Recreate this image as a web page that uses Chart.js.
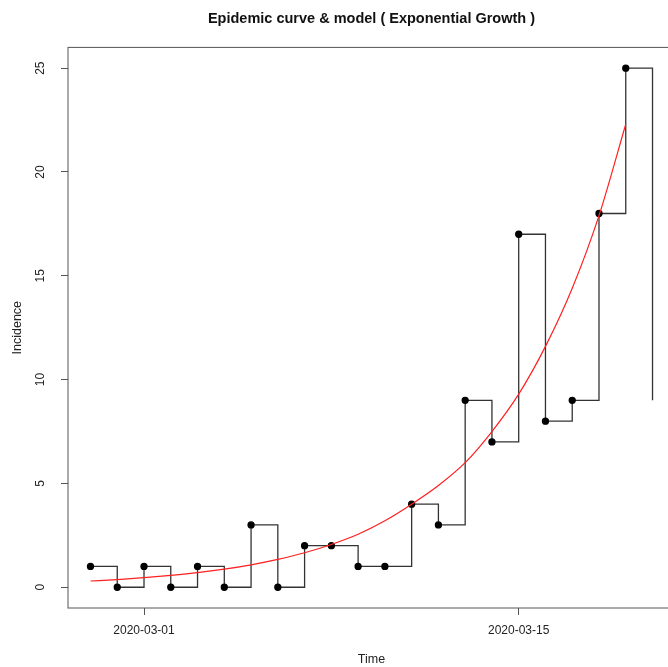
<!DOCTYPE html>
<html>
<head>
<meta charset="utf-8">
<script src="https://cdn.jsdelivr.net/npm/chart.js@4"></script>
<style>
  html, body { margin: 0; padding: 0; background: #fff; overflow: hidden; }
  #wrap { width: 690px; height: 667px; }
</style>
</head>
<body>
<div id="wrap"><canvas id="epi"></canvas></div>
<script>
const dates = [
  "2020-02-28", "2020-02-29", "2020-03-01", "2020-03-02", "2020-03-03", "2020-03-04",
  "2020-03-05", "2020-03-06", "2020-03-07", "2020-03-08", "2020-03-09", "2020-03-10",
  "2020-03-11", "2020-03-12", "2020-03-13", "2020-03-14", "2020-03-15", "2020-03-16",
  "2020-03-17", "2020-03-18", "2020-03-19", "2020-03-20"
];
const incidence = [1, 0, 1, 0, 1, 0, 3, 0, 2, 2, 1, 1, 4, 3, 9, 7, 17, 8, 9, 18, 25, 9];
// fitted model (one value per day up to 2020-03-19)
const model = [0.30, 0.37, 0.46, 0.57, 0.70, 0.87, 1.08, 1.34, 1.66, 2.06, 2.55,
  3.2, 4.0, 4.9, 6.0, 7.5, 9.3, 11.6, 14.4, 17.9, 22.3];
const xTickLabels = ["2020-03-01", "2020-03-15"];
const yTickValues = [0, 5, 10, 15, 20, 25];

const origin = Date.UTC(2020, 2, 1);
function dayOf(s) {
  const p = s.split("-").map(Number);
  return Math.round((Date.UTC(p[0], p[1] - 1, p[2]) - origin) / 86400000);
}

const days = dates.map(dayOf);
const span = days[days.length - 1] - days[0];
const xMin = days[0] - 0.04 * span;
const xMax = days[days.length - 1] + 0.04 * span;
const yMin = 0 - 0.04 * 25;
const yMax = 25 + 0.04 * 25;

const FONT = "'Liberation Sans', Arial, sans-serif";

const frame = {
  id: "frame",
  afterDraw(chart) {
    const { ctx, chartArea: a } = chart;
    ctx.save();
    ctx.strokeStyle = "#555";
    ctx.lineWidth = 1;
    ctx.strokeRect(a.left, a.top, a.right - a.left, a.bottom - a.top);

    ctx.fillStyle = "#222";
    ctx.font = "12px " + FONT;
    ctx.textAlign = "center";
    ctx.textBaseline = "middle";
    const ys = chart.scales.y;
    ys.ticks.forEach(t => {
      ctx.save();
      ctx.translate(41, ys.getPixelForValue(t.value));
      ctx.rotate(-Math.PI / 2);
      ctx.fillText(String(t.value), 0, 0);
      ctx.restore();
    });

    ctx.font = "12.5px " + FONT;
    ctx.fillText("Time", (a.left + a.right) / 2, 660);
    ctx.save();
    ctx.translate(18, (a.top + a.bottom) / 2);
    ctx.rotate(-Math.PI / 2);
    ctx.fillText("Incidence", 0, 0);
    ctx.restore();
    ctx.restore();
  }
};

new Chart(document.getElementById("epi"), {
  type: "line",
  data: {
    datasets: [
      {
        label: "Incidence",
        data: days.map((d, i) => ({ x: d, y: incidence[i] })),
        stepped: "before",
        borderColor: "#333",
        borderWidth: 1.3,
        pointBackgroundColor: "#000",
        pointBorderColor: "#000",
        pointRadius: c => (c.dataIndex === incidence.length - 1 ? 0 : 3),
        fill: false,
        order: 2
      },
      {
        label: "Model",
        data: model.map((v, i) => ({ x: days[i], y: v })),
        borderColor: "#ff2020",
        borderWidth: 1.2,
        pointRadius: 0,
        cubicInterpolationMode: "monotone",
        fill: false,
        order: 1
      }
    ]
  },
  options: {
    responsive: true,
    maintainAspectRatio: false,
    animation: false,
    layout: { padding: { left: 0, right: 15, top: 0, bottom: 0 } },
    plugins: {
      legend: { display: false },
      tooltip: { enabled: false },
      title: {
        display: true,
        fullSize: false,
        text: "Epidemic curve & model ( Exponential Growth )",
        color: "#111",
        font: { family: FONT, size: 14.5, weight: "bold" },
        padding: { top: 10, bottom: 20 }
      }
    },
    scales: {
      x: {
        type: "linear",
        min: xMin,
        max: xMax,
        afterBuildTicks: s => { s.ticks = xTickLabels.map(l => ({ value: dayOf(l) })); },
        afterFit: s => { s.height = 59; },
        ticks: {
          color: "#222",
          font: { family: FONT, size: 12 },
          padding: 8,
          maxRotation: 0,
          callback: v => xTickLabels.find(l => dayOf(l) === v) || ""
        },
        grid: { drawOnChartArea: false, tickLength: 7, color: "#555" },
        border: { display: false }
      },
      y: {
        min: yMin,
        max: yMax,
        afterBuildTicks: s => { s.ticks = yTickValues.map(v => ({ value: v })); },
        afterFit: s => { s.width = 68; },
        ticks: { display: false },
        grid: { drawOnChartArea: false, tickLength: 7, color: "#555" },
        border: { display: false }
      }
    }
  },
  plugins: [frame]
});
</script>
</body>
</html>
